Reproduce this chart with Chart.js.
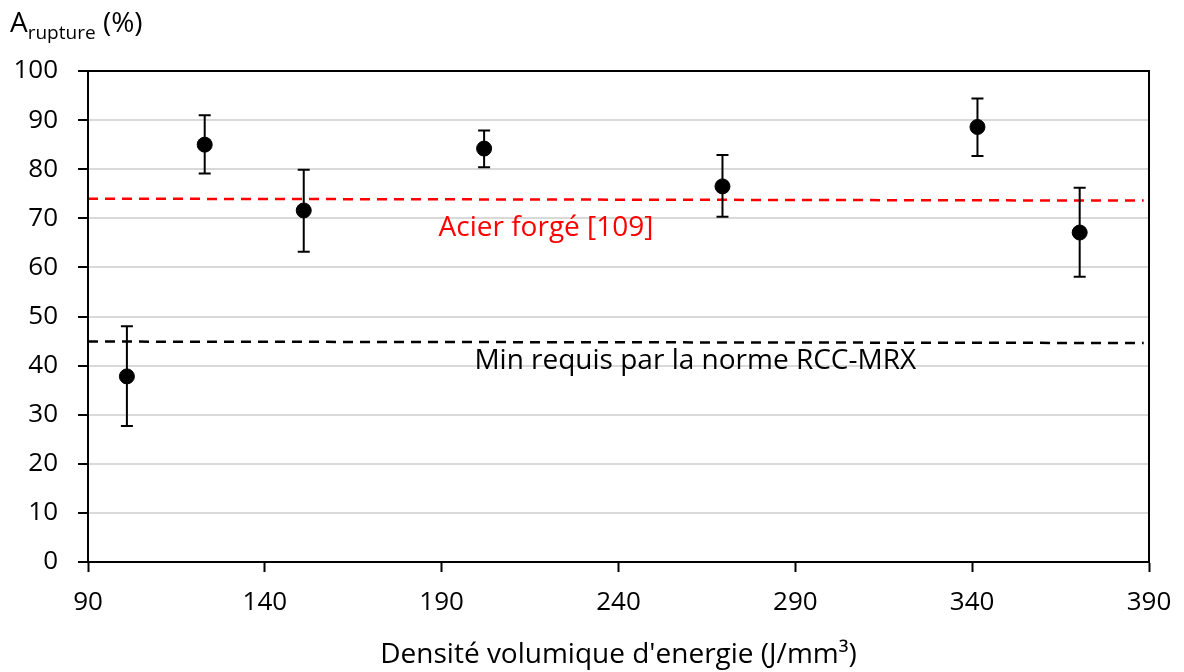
<!DOCTYPE html>
<html>
<head>
<meta charset="utf-8">
<script src="https://cdn.jsdelivr.net/npm/chart.js@4"></script>
<style>
  html, body { margin: 0; padding: 0; background: #fff; }
  #wrap { width: 1184px; height: 672px; position: relative; }
</style>
</head>
<body>
<div id="wrap"><canvas id="chart"></canvas></div>
<script>
// energy density (J/mm3) and elongation at rupture (%)
const energy = [101, 123, 151, 202, 269.4, 341.5, 370.4];
const elongation = [37.8, 85.0, 71.6, 84.2, 76.5, 88.6, 67.1];
const errHigh = [48.0, 91.0, 79.9, 87.9, 82.9, 94.4, 76.2];
const errLow = [27.7, 79.1, 63.2, 80.4, 70.3, 82.7, 58.1];

// reference lines
const forgedX = [90, 388.5];
const forgedY = [74.0, 73.6];
const normX = [90, 388.5];
const normY = [44.9, 44.6];

const xTicks = [90, 140, 190, 240, 290, 340, 390];
const yTicks = [0, 10, 20, 30, 40, 50, 60, 70, 80, 90, 100];

const labels = [
  { text: "Acier forgé [109]", x: 219.5, y: 68.1, color: "#ff0000" },
  { text: "Min requis par la norme RCC-MRX", x: 261.7, y: 41.0, color: "#000000" }
];

const FONT = "'Open Sans', sans-serif";

function toPoints(xs, ys) {
  return xs.map((x, i) => ({ x: x, y: ys[i] }));
}

const errorBars = {
  id: "errorBars",
  afterDatasetsDraw(chart) {
    let ctx = chart.ctx;
    let xs = chart.scales.x, ys = chart.scales.y;
    ctx.save();
    ctx.strokeStyle = "#000";
    ctx.lineWidth = 2;
    for (let i = 0; i < energy.length; i++) {
      let px = xs.getPixelForValue(energy[i]);
      let top = ys.getPixelForValue(errHigh[i]);
      let bot = ys.getPixelForValue(errLow[i]);
      ctx.beginPath();
      ctx.moveTo(px, top); ctx.lineTo(px, bot);
      ctx.moveTo(px - 6, top); ctx.lineTo(px + 6, top);
      ctx.moveTo(px - 6, bot); ctx.lineTo(px + 6, bot);
      ctx.stroke();
    }
    ctx.restore();
  }
};

const extras = {
  id: "extras",
  afterDraw(chart) {
    let ctx = chart.ctx;
    let a = chart.chartArea;
    let xs = chart.scales.x, ys = chart.scales.y;
    ctx.save();
    // frame
    ctx.strokeStyle = "#000";
    ctx.lineWidth = 2;
    ctx.strokeRect(a.left, a.top, a.right - a.left, a.bottom - a.top);
    // annotations
    ctx.font = "28px " + FONT;
    ctx.textAlign = "center";
    ctx.textBaseline = "middle";
    labels.forEach(l => {
      ctx.fillStyle = l.color;
      ctx.fillText(l.text, xs.getPixelForValue(l.x), ys.getPixelForValue(l.y));
    });
    // y axis title with subscript
    ctx.fillStyle = "#000";
    ctx.textAlign = "left";
    ctx.textBaseline = "alphabetic";
    ctx.font = "28px " + FONT;
    ctx.fillText("A", 10, 32);
    let w = ctx.measureText("A").width;
    ctx.font = "19px " + FONT;
    ctx.fillText("rupture", 10 + w, 39);
    let w2 = ctx.measureText("rupture").width;
    ctx.font = "28px " + FONT;
    ctx.fillText(" (%)", 10 + w + w2, 32);
    ctx.restore();
  }
};

new Chart(document.getElementById("chart"), {
  type: "scatter",
  data: {
    datasets: [
      {
        label: "Acier forgé",
        data: toPoints(forgedX, forgedY),
        showLine: true,
        borderColor: "#ff0000",
        borderWidth: 2.5,
        borderDash: [10, 7],
        pointRadius: 0
      },
      {
        label: "Min RCC-MRX",
        data: toPoints(normX, normY),
        showLine: true,
        borderColor: "#000000",
        borderWidth: 2.5,
        borderDash: [10, 7],
        pointRadius: 0
      },
      {
        label: "A rupture",
        data: toPoints(energy, elongation),
        backgroundColor: "#000",
        borderColor: "#000",
        pointRadius: 7.5,
        pointHoverRadius: 7.5
      }
    ]
  },
  options: {
    responsive: true,
    maintainAspectRatio: false,
    animation: false,
    events: [],
    layout: { padding: { top: 71, right: 35, bottom: 0, left: 0 } },
    plugins: {
      legend: { display: false },
      tooltip: { enabled: false }
    },
    scales: {
      x: {
        type: "linear",
        min: 90,
        max: 390,
        afterBuildTicks: s => { s.ticks = xTicks.map(v => ({ value: v })); },
        afterFit: s => { s.height = 110; s.paddingRight = 0; s.paddingLeft = 0; },
        grid: { drawOnChartArea: false, tickColor: "#000", tickLength: 10, tickWidth: 2 },
        border: { color: "#000", width: 2 },
        ticks: { color: "#000", font: { family: FONT, size: 26 }, padding: 15, maxRotation: 0 },
        title: {
          display: true,
          text: "Densité volumique d'energie (J/mm³)",
          color: "#000",
          font: { family: FONT, size: 28 },
          padding: { top: 0, bottom: 0 }
        }
      },
      y: {
        min: 0,
        max: 100,
        afterBuildTicks: s => { s.ticks = yTicks.map(v => ({ value: v })); },
        afterFit: s => { s.width = 88; },
        grid: { color: "#d9d9d9", lineWidth: 2, tickColor: "#000", tickLength: 10, tickWidth: 2 },
        border: { color: "#000", width: 2 },
        ticks: { color: "#000", font: { family: FONT, size: 26 }, padding: 20 }
      }
    }
  },
  plugins: [errorBars, extras]
});
</script>
</body>
</html>
